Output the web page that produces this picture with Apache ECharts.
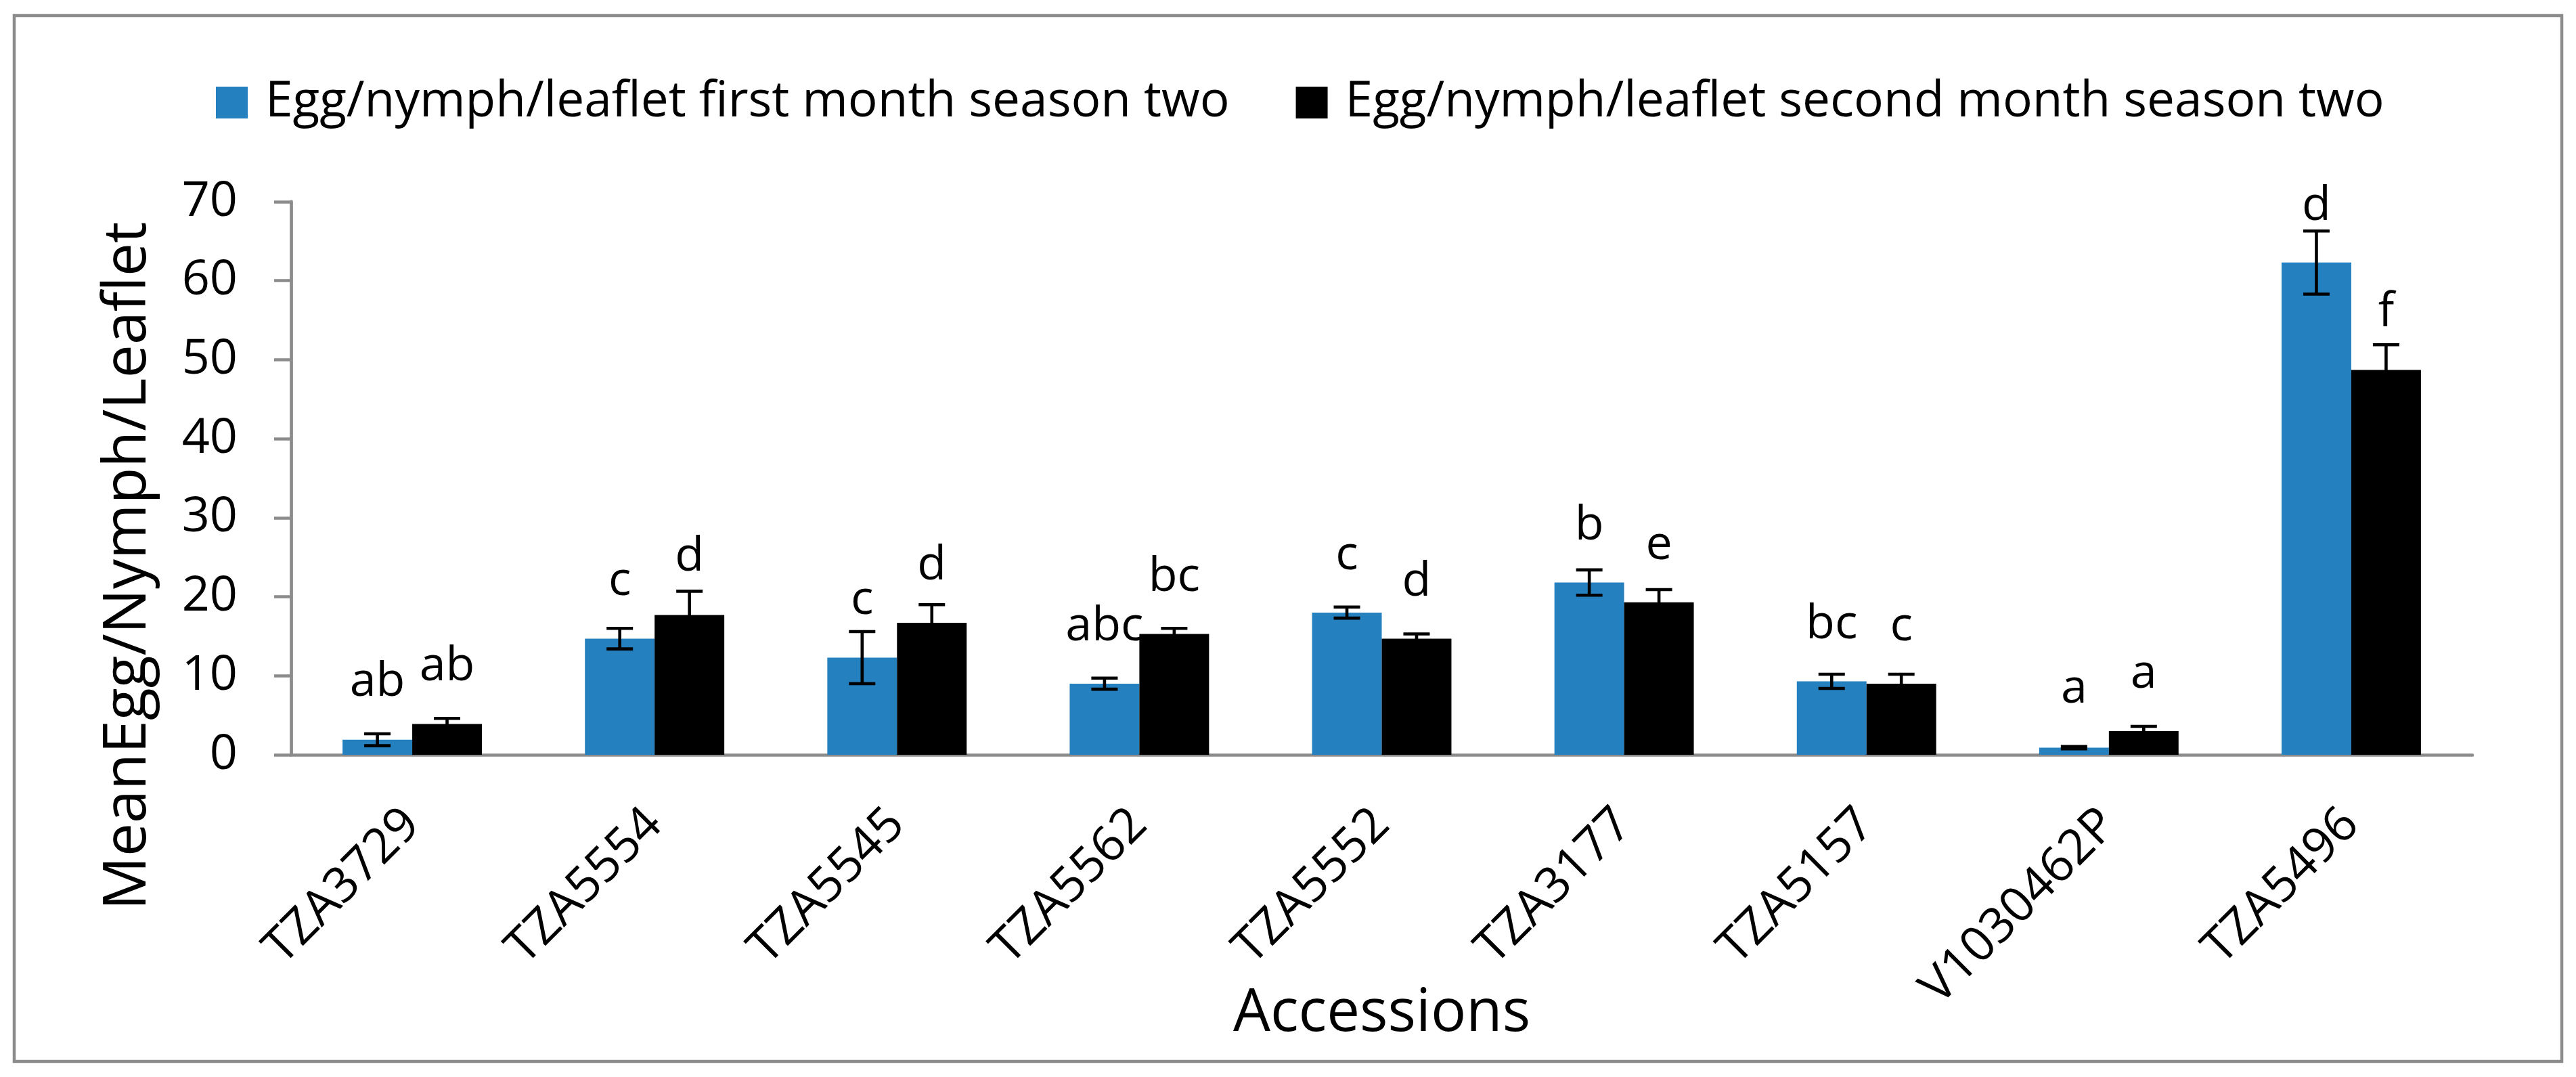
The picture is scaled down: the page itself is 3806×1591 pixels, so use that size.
<!DOCTYPE html>
<html>
<head>
<meta charset="utf-8">
<script src="https://cdn.jsdelivr.net/npm/echarts@6/dist/echarts.min.js"></script>
<style>
html,body{margin:0;padding:0;background:#fff;}
#chart{width:3806px;height:1591px;}
</style>
</head>
<body>
<div id="chart"></div>
<script>
const categories = ['TZA3729','TZA5554','TZA5545','TZA5562','TZA5552','TZA3177','TZA5157','V1030462P','TZA5496'];
const seriesNames = ['Egg/nymph/leaflet first month season two','Egg/nymph/leaflet second month season two'];
const firstMonth = [1.9, 14.7, 12.3, 9.0, 18.0, 21.8, 9.3, 0.9, 62.3];
const firstErr = [0.75, 1.3, 3.3, 0.7, 0.7, 1.6, 0.9, 0.15, 4.0];
const secondMonth = [3.9, 17.7, 16.7, 15.3, 14.7, 19.3, 9.0, 3.0, 48.7];
const secondErr = [0.7, 3.0, 2.3, 0.7, 0.6, 1.6, 1.2, 0.6, 3.2];
const firstLetters = ['ab','c','c','abc','c','b','bc','a','d'];
const secondLetters = ['ab','d','d','bc','d','e','c','a','f'];
const firstLetterAt = [7.2, 20.0, 17.6, 14.2, 23.2, 27.0, 14.5, 6.3, 67.4];
const secondLetterAt = [9.2, 23.0, 21.9, 20.5, 19.9, 24.5, 14.2, 8.2, 54.0];
const yTicks = {min: 0, max: 70, interval: 10};
const yTitle = 'MeanEgg/Nymph/Leaflet';
const xTitle = 'Accessions';

const BLUE = '#2580c0';
const GREY = '#8c8c8c';
const FONT = '"Open Sans"';
const BAR_FRACTION = 0.2875;

function errData(vals, errs, at) {
  return vals.map((v, i) => [i, v, errs[i], at[i]]);
}

function makeRender(side, letters) {
  return function (params, api) {
    const i = api.value(0);
    const v = api.value(1);
    const e = api.value(2);
    const at = api.value(3);
    const catW = api.size([1, 0])[0];
    const bw = catW * BAR_FRACTION;
    const c = api.coord([i, v]);
    const x = c[0] + side * bw / 2;
    const yTop = api.coord([i, v + e])[1];
    const yBot = api.coord([i, Math.max(v - e, 0)])[1];
    const capHalf = 19.5;
    const ls = {stroke: '#000', lineWidth: 4.6};
    const labelPt = api.coord([i, at]);
    return {
      type: 'group',
      children: [
        {type: 'line', shape: {x1: x, y1: yTop, x2: x, y2: yBot}, style: ls},
        {type: 'line', shape: {x1: x - capHalf, y1: yTop, x2: x + capHalf, y2: yTop}, style: ls},
        {type: 'line', shape: {x1: x - capHalf, y1: yBot, x2: x + capHalf, y2: yBot}, style: ls},
        {type: 'text', style: {
          text: letters[i],
          x: x, y: labelPt[1] - 23,
          align: 'center', verticalAlign: 'middle',
          fontSize: 70, fontFamily: FONT, fill: '#000'
        }}
      ]
    };
  };
}

const chart = echarts.init(document.getElementById('chart'), null, {renderer: 'canvas'});
const option = {
  animation: false,
  backgroundColor: '#ffffff',
  textStyle: {fontFamily: FONT},
  graphic: [{
    type: 'rect', silent: true, z: -10,
    shape: {x: 21, y: 23, width: 3764, height: 1545},
    style: {fill: 'none', stroke: GREY, lineWidth: 4.5}
  }, {
    type: 'text', silent: true,
    x: 190, y: 836, rotation: Math.PI / 2,
    style: {text: yTitle, align: 'center', verticalAlign: 'middle', fontSize: 88, fontFamily: FONT, fill: '#000'}
  }],
  legend: {
    data: seriesNames,
    left: 314, top: 110,
    itemWidth: 47, itemHeight: 47, itemGap: 98,
    icon: 'rect',
    textStyle: {fontSize: 73, color: '#000', fontFamily: FONT, padding: [0, 0, 0, 21]}
  },
  grid: {left: 430, right: 153, top: 298, bottom: 476},
  xAxis: {
    type: 'category', data: categories,
    axisLine: {lineStyle: {color: GREY, width: 4.6}},
    axisTick: {length: 27, lineStyle: {color: GREY, width: 4.5}},
    axisLabel: {rotate: 45, margin: 92, fontSize: 72, color: '#000', interval: 0, fontFamily: FONT},
    name: xTitle, nameLocation: 'middle', nameGap: 340, nameMoveOverlap: false,
    nameTextStyle: {fontSize: 87, color: '#000', fontFamily: FONT}
  },
  yAxis: {
    type: 'value', min: yTicks.min, max: yTicks.max, interval: yTicks.interval,
    splitLine: {show: false},
    axisLine: {show: true, lineStyle: {color: GREY, width: 4.8}},
    axisTick: {show: true, length: 25, lineStyle: {color: GREY, width: 4.5}},
    axisLabel: {margin: 79, fontSize: 72, color: '#000', fontFamily: FONT}
  },
  series: [
    {name: seriesNames[0], type: 'bar', data: firstMonth, barGap: '0%', barCategoryGap: '42.5%', itemStyle: {color: BLUE}},
    {name: seriesNames[1], type: 'bar', data: secondMonth, barGap: '0%', barCategoryGap: '42.5%', itemStyle: {color: '#000'}},
    {name: 'err1', type: 'custom', renderItem: makeRender(-1, firstLetters), data: errData(firstMonth, firstErr, firstLetterAt), encode: {x: 0, y: 1}, z: 5},
    {name: 'err2', type: 'custom', renderItem: makeRender(1, secondLetters), data: errData(secondMonth, secondErr, secondLetterAt), encode: {x: 0, y: 1}, z: 5}
  ]
};
chart.setOption(option);
</script>
</body>
</html>
